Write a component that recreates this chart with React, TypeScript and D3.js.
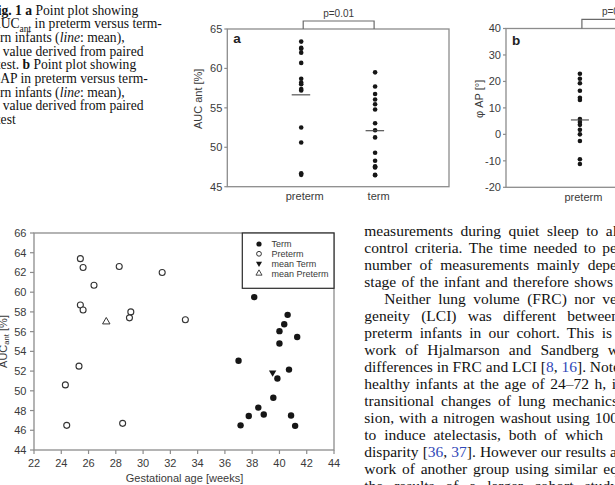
import React, { useEffect, useRef } from "react";
import * as d3 from "d3";

const WIDTH = 615;
const HEIGHT = 485;

// Scatter: AUC_ant vs gestational age
const pretermGA = [25.4, 25.6, 28.25, 31.4, 26.4, 25.4, 25.6, 29.1, 29.0, 33.1, 25.3, 24.3, 24.4, 28.5];
const pretermAUC = [63.4, 62.5, 62.6, 62.0, 60.7, 58.7, 58.2, 58.0, 57.4, 57.2, 52.5, 50.6, 46.5, 46.7];
const termGA = [38.15, 40.6, 40.35, 40.0, 41.3, 40.0, 37.0, 40.7, 39.85, 39.55, 38.45, 38.85, 37.75, 37.15, 40.85, 41.15];
const termAUC = [59.5, 57.7, 56.75, 56.05, 55.45, 54.8, 53.05, 52.15, 51.25, 49.3, 48.3, 47.6, 47.45, 46.5, 47.5, 46.45];
const meanTermPoint = [39.5, 51.85];
const meanPretermPoint = [27.3, 57.0];

// Panel a / b
const groups = ["preterm", "term"];
const groupMeanAUC = [56.65, 52.1];
const pretermPhi = [22.9, 21.0, 19.3, 16.5, 13.8, 13.0, 5.8, 4.7, 3.6, 1.7, 0.0, -2.5, -9.4, -11.2];
const pretermPhiMean = 5.45;
const pA = "p=0.01";
const pB = "p=0.05";

const gaTicks = [22, 24, 26, 28, 30, 32, 34, 36, 38, 40, 42, 44];
const aucTicks = [44, 46, 48, 50, 52, 54, 56, 58, 60, 62, 64, 66];
const aucPanelTicks = [45, 50, 55, 60, 65];
const phiTicks = [-20, -10, 0, 10, 20, 30, 40];
const legendLabels = ["Term", "Preterm", "mean Term", "mean Preterm"];

type Seg = { t: string; b?: boolean; i?: boolean; sub?: boolean; blue?: boolean };

const captionLines: { pre?: string; preBold?: boolean; x: number; segs: Seg[] }[] = [
  { pre: "Fi", preBold: true, x: 1.5, segs: [{ t: "g. 1 a", b: true }, { t: " Point plot showing" }] },
  { pre: "A", x: 0.7, segs: [{ t: "UC" }, { t: "ant", sub: true }, { t: " in preterm versus term-" }] },
  { pre: "bo", x: 0, segs: [{ t: "rn infants (" }, { t: "line", i: true }, { t: ": mean)," }] },
  { x: 2.7, segs: [{ t: "value derived from paired" }] },
  { pre: "t", x: 0.6, segs: [{ t: "est. " }, { t: "b", b: true }, { t: " Point plot showing" }] },
  { pre: "φ", x: 0.3, segs: [{ t: "AP in preterm versus term-" }] },
  { pre: "bo", x: 0, segs: [{ t: "rn infants (" }, { t: "line", i: true }, { t: ": mean)," }] },
  { x: 2.7, segs: [{ t: "value derived from paired" }] },
  { pre: "t", x: 0.6, segs: [{ t: "est" }] },
];

const bodyLines: { x: number; end: number; segs: Seg[] }[] = [
  { x: 364.3, end: 617, segs: [{ t: "measurements during quiet sleep to al" }] },
  { x: 364.3, end: 617, segs: [{ t: "control criteria. The time needed to pe" }] },
  { x: 364.3, end: 617, segs: [{ t: "number of measurements mainly depe" }] },
  { x: 364.3, end: 613, segs: [{ t: "stage of the infant and therefore shows" }] },
  { x: 384.3, end: 617, segs: [{ t: "Neither lung volume (FRC) nor ve" }] },
  { x: 364.3, end: 619, segs: [{ t: "geneity (LCI) was different between" }] },
  { x: 364.3, end: 612, segs: [{ t: "preterm infants in our cohort. This is" }] },
  { x: 364.3, end: 619, segs: [{ t: "work of Hjalmarson and Sandberg w" }] },
  { x: 364.3, end: 620, segs: [{ t: "differences in FRC and LCI [" }, { t: "8", blue: true }, { t: ", " }, { t: "16", blue: true }, { t: "]. Note" }] },
  { x: 364.3, end: 616, segs: [{ t: "healthy infants at the age of 24–72 h, i" }] },
  { x: 364.3, end: 618, segs: [{ t: "transitional changes of lung mechanics" }] },
  { x: 364.3, end: 618, segs: [{ t: "sion, with a nitrogen washout using 100" }] },
  { x: 364.3, end: 603, segs: [{ t: "to induce atelectasis, both of which" }] },
  { x: 364.3, end: 617, segs: [{ t: "disparity [" }, { t: "36", blue: true }, { t: ", " }, { t: "37", blue: true }, { t: "]. However our results a" }] },
  { x: 364.3, end: 618, segs: [{ t: "work of another group using similar eq" }] },
  { x: 364.3, end: 618, segs: [{ t: "the results of a larger cohort study" }] },
];

export default function App() {
  const ref = useRef<SVGSVGElement | null>(null);

  useEffect(() => {
    const svg = d3.select(ref.current);
    svg.selectAll("*").remove();
    const sans = "'Liberation Sans', Arial, sans-serif";
    const serif = "'Liberation Serif', 'Times New Roman', serif";
    const AX = "#8c8c8c";
    const TX = "#3a3a3a";
    const DOT = "#161616";
    const BLUE = "#3048b8";

    svg.append("rect").attr("width", WIDTH).attr("height", HEIGHT).attr("fill", "#fff");

    const addSegs = (t: any, segs: Seg[], fs: number) => {
      let subbed = false;
      segs.forEach((s) => {
        const sp = t.append("tspan").text(s.t);
        if (s.b) sp.attr("font-weight", "bold");
        if (s.i) sp.attr("font-style", "italic");
        if (s.blue) sp.attr("fill", BLUE);
        if (s.sub) {
          sp.attr("font-size", fs * 0.7).attr("dy", fs * 0.25);
          subbed = true;
        } else if (subbed) {
          sp.attr("dy", -fs * 0.25);
          subbed = false;
        }
      });
    };

    // ---------- Caption ----------
    const capFs = 13.6;
    const cap = svg.append("g").attr("font-family", serif).attr("font-size", capFs).attr("fill", "#111");
    captionLines.forEach((ln, i) => {
      const y = 14.5 + i * 13.7;
      if (ln.pre) {
        const p = cap.append("text").attr("x", ln.x).attr("y", y).attr("text-anchor", "end").text(ln.pre);
        if (ln.preBold) p.attr("font-weight", "bold");
      }
      const t = cap.append("text").attr("x", ln.x).attr("y", y).style("white-space", "pre");
      addSegs(t, ln.segs, capFs);
    });

    // ---------- Body text ----------
    const bodyFs = 15.5;
    const body = svg.append("g").attr("font-family", serif).attr("font-size", bodyFs).attr("fill", "#111");
    bodyLines.forEach((ln, i) => {
      const t = body.append("text").attr("x", ln.x).attr("y", 236 + i * 17).style("white-space", "pre");
      addSegs(t, ln.segs, bodyFs);
      const node = t.node() as SVGTextElement;
      const len = node.getComputedTextLength();
      const full = ln.segs.map((s) => s.t).join("");
      const spaces = (full.match(/ /g) || []).length;
      if (spaces > 0) t.style("word-spacing", `${(ln.end - ln.x - len) / spaces}px`);
    });

    // ---------- Panel helper ----------
    const panel = (
      left: number, top: number, bottom: number, width: number,
      domain: [number, number], ticks: number[], ytitle: string, ytx: number,
      letter: string, letterY: number, pText: string, bracketY: number, pY: number
    ) => {
      const g = svg.append("g");
      const y = d3.scaleLinear().domain(domain).range([bottom, top]);
      const x = d3.scalePoint<string>().domain(groups).range([left, left + width]).padding(1);
      g.append("rect").attr("x", left).attr("y", top).attr("width", width).attr("height", bottom - top)
        .attr("fill", "none").attr("stroke", AX).attr("stroke-width", 1.3);
      ticks.forEach((v) => {
        g.append("line").attr("x1", left - 3).attr("x2", left).attr("y1", y(v)).attr("y2", y(v))
          .attr("stroke", AX).attr("stroke-width", 1.2);
        g.append("text").attr("x", left - 5).attr("y", y(v)).attr("dy", "0.36em").attr("text-anchor", "end")
          .attr("font-family", sans).attr("font-size", 11).attr("fill", TX).text(String(v));
      });
      groups.forEach((gname) => {
        g.append("text").attr("x", (x(gname) as number) + 3.5).attr("y", bottom + 13.5).attr("text-anchor", "middle")
          .attr("font-family", sans).attr("font-size", 11).attr("fill", TX).text(gname);
      });
      g.append("text").attr("transform", `translate(${ytx},${(top + bottom) / 2 - 9}) rotate(-90)`)
        .attr("text-anchor", "middle").attr("font-family", sans).attr("font-size", 11).attr("fill", TX).text(ytitle);
      g.append("text").attr("x", left + 6).attr("y", letterY).attr("font-family", sans).attr("font-size", 13.5)
        .attr("font-weight", "bold").attr("fill", "#222").text(letter);
      const x1 = (x("preterm") as number) + 2;
      const x2 = (x("term") as number) - 1;
      g.append("path").attr("d", `M${x1},${top}V${bracketY}H${x2}V${top}`).attr("fill", "none")
        .attr("stroke", "#6a6a6a").attr("stroke-width", 1.2);
      g.append("text").attr("x", (x1 + x2) / 2).attr("y", pY).attr("text-anchor", "middle")
        .attr("font-family", sans).attr("font-size", 10).attr("fill", TX).text(pText);
      return { x, y, g };
    };

    // Panel a
    const a = panel(227.3, 29, 186.7, 221.7, [45, 65], aucPanelTicks, "AUC ant [%]", 201.5, "a", 43, pA, 21, 16.5);
    a.g.selectAll(".dp").data(pretermAUC).join("circle").attr("cx", a.x("preterm") as number)
      .attr("cy", (d) => a.y(d)).attr("r", 2.3).attr("fill", DOT);
    a.g.selectAll(".dt").data(termAUC).join("circle").attr("cx", a.x("term") as number)
      .attr("cy", (d) => a.y(d)).attr("r", 2.3).attr("fill", DOT);
    groups.forEach((gname, i) => {
      const cx = a.x(gname) as number;
      a.g.append("line").attr("x1", cx - 9.5).attr("x2", cx + 9).attr("y1", a.y(groupMeanAUC[i])).attr("y2", a.y(groupMeanAUC[i]))
        .attr("stroke", "#444").attr("stroke-width", 1.1);
    });

    // Panel b
    const b = panel(506, 28.5, 187.3, 221.7, [-20, 40], phiTicks, "φ AP [°]", 483, "b", 44.5, pB, 19.3, 15);
    b.g.selectAll(".bp").data(pretermPhi).join("circle").attr("cx", b.x("preterm") as number)
      .attr("cy", (d) => b.y(d)).attr("r", 2.3).attr("fill", DOT);
    {
      const cx = b.x("preterm") as number;
      b.g.append("line").attr("x1", cx - 9).attr("x2", cx + 9).attr("y1", b.y(pretermPhiMean)).attr("y2", b.y(pretermPhiMean))
        .attr("stroke", "#444").attr("stroke-width", 1.1);
    }

    // ---------- Scatter ----------
    const sx = d3.scaleLinear().domain([22, 44]).range([34, 334]);
    const sy = d3.scaleLinear().domain([44, 66]).range([450, 233]);
    const s = svg.append("g");
    s.append("rect").attr("x", 34).attr("y", 233).attr("width", 300).attr("height", 217)
      .attr("fill", "none").attr("stroke", AX).attr("stroke-width", 1.3);
    gaTicks.forEach((v) => {
      s.append("line").attr("x1", sx(v)).attr("x2", sx(v)).attr("y1", 450).attr("y2", 454)
        .attr("stroke", AX).attr("stroke-width", 1.2);
      s.append("text").attr("x", sx(v)).attr("y", 466.5).attr("text-anchor", "middle")
        .attr("font-family", sans).attr("font-size", 11).attr("fill", TX).text(v);
    });
    aucTicks.forEach((v) => {
      s.append("line").attr("x1", 30).attr("x2", 34).attr("y1", sy(v)).attr("y2", sy(v))
        .attr("stroke", AX).attr("stroke-width", 1.2);
      s.append("text").attr("x", 26.5).attr("y", sy(v)).attr("dy", "0.36em").attr("text-anchor", "end")
        .attr("font-family", sans).attr("font-size", 11).attr("fill", TX).text(v);
    });
    s.append("text").attr("x", 184.5).attr("y", 482).attr("text-anchor", "middle")
      .attr("font-family", sans).attr("font-size", 11).attr("fill", TX).text("Gestational age [weeks]");
    {
      const t = s.append("text").attr("transform", "translate(6.5,341.5) rotate(-90)").attr("text-anchor", "middle")
        .attr("font-family", sans).attr("font-size", 11).attr("fill", TX).style("white-space", "pre");
      addSegs(t, [{ t: "AUC" }, { t: "ant", sub: true }, { t: " [%]" }], 11);
    }
    // points
    s.selectAll(".pp").data(pretermGA.map((g, i) => [g, pretermAUC[i]])).join("circle")
      .attr("cx", (d) => sx(d[0])).attr("cy", (d) => sy(d[1])).attr("r", 3.0)
      .attr("fill", "#fff").attr("stroke", "#333").attr("stroke-width", 1.1);
    s.selectAll(".tp").data(termGA.map((g, i) => [g, termAUC[i]])).join("circle")
      .attr("cx", (d) => sx(d[0])).attr("cy", (d) => sy(d[1])).attr("r", 3.2).attr("fill", DOT);
    const tri = d3.symbol().type(d3.symbolTriangle).size(24);
    s.append("path").attr("d", tri()).attr("transform", `translate(${sx(meanTermPoint[0])},${sy(meanTermPoint[1])}) rotate(180)`)
      .attr("fill", DOT);
    s.append("path").attr("d", tri()).attr("transform", `translate(${sx(meanPretermPoint[0])},${sy(meanPretermPoint[1])})`)
      .attr("fill", "#fff").attr("stroke", "#333").attr("stroke-width", 1);

    // legend
    const lg = s.append("g");
    lg.append("rect").attr("x", 242.3).attr("y", 233).attr("width", 91.7).attr("height", 55.3)
      .attr("fill", "#fff").attr("stroke", "#2a2a2a").attr("stroke-width", 1.2);
    const tri2 = d3.symbol().type(d3.symbolTriangle).size(16);
    legendLabels.forEach((lab, i) => {
      const cy = 244 + i * 9.8;
      if (i === 0) lg.append("circle").attr("cx", 259).attr("cy", cy).attr("r", 2.6).attr("fill", DOT);
      if (i === 1) lg.append("circle").attr("cx", 259).attr("cy", cy).attr("r", 2.4).attr("fill", "#fff").attr("stroke", "#333").attr("stroke-width", 1);
      if (i === 2) lg.append("path").attr("d", tri2()).attr("transform", `translate(259,${cy}) rotate(180)`).attr("fill", DOT);
      if (i === 3) lg.append("path").attr("d", tri2()).attr("transform", `translate(259,${cy})`).attr("fill", "#fff").attr("stroke", "#333").attr("stroke-width", 0.9);
      lg.append("text").attr("x", 271.5).attr("y", cy).attr("dy", "0.35em").attr("font-family", sans)
        .attr("font-size", 9).attr("fill", TX).text(lab);
    });
  }, []);

  return (
    <svg
      ref={ref}
      width={WIDTH}
      height={HEIGHT}
      style={{ position: "absolute", left: 0, top: 0, display: "block" }}
    />
  );
}
